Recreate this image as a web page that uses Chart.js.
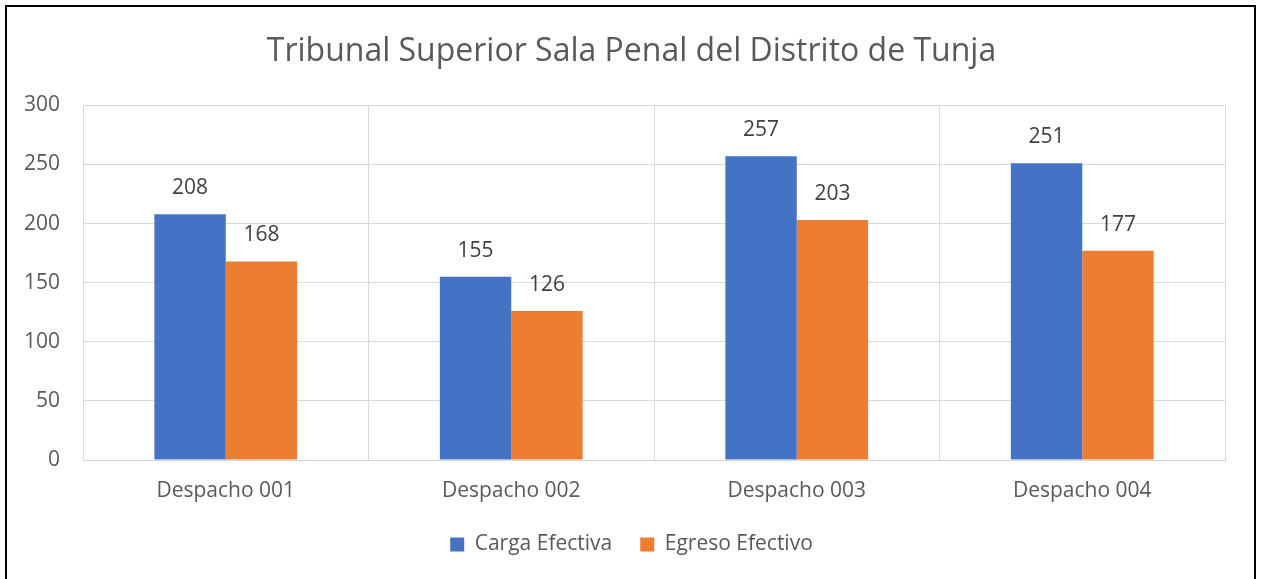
<!DOCTYPE html>
<html>
<head>
<meta charset="utf-8">
<script src="https://cdn.jsdelivr.net/npm/chart.js@4"></script>
<style>
  html, body { margin: 0; padding: 0; background: #fff; overflow: hidden; }
  #wrap { position: relative; width: 1263px; height: 579px; }
  #frame {
    position: absolute; left: 5px; top: 5px; width: 1247px; height: 640px;
    border: 2px solid #000; pointer-events: none;
  }
</style>
</head>
<body>
<div id="wrap">
  <canvas id="chart" width="1263" height="579"></canvas>
  <div id="frame"></div>
</div>
<script>
const chartTitle = 'Tribunal Superior Sala Penal del Distrito de Tunja';
const categories = ['Despacho 001', 'Despacho 002', 'Despacho 003', 'Despacho 004'];
const cargaEfectiva = [208, 155, 257, 251];
const egresoEfectivo = [168, 126, 203, 177];
const seriesNames = ['Carga Efectiva', 'Egreso Efectivo'];
const yTicks = [0, 50, 100, 150, 200, 250, 300];

const FONT = "'Open Sans', 'Noto Sans', sans-serif";

// values above each bar
const barLabels = {
  id: 'barLabels',
  afterDatasetsDraw(chart) {
    const ctx = chart.ctx;
    ctx.save();
    ctx.font = '21px ' + FONT;
    ctx.fillStyle = '#404040';
    ctx.textAlign = 'center';
    ctx.textBaseline = 'middle';
    chart.data.datasets.forEach((ds, i) => {
      chart.getDatasetMeta(i).data.forEach((bar, j) => {
        ctx.fillText(ds.data[j], bar.x, bar.y - 26);
      });
    });
    ctx.restore();
  }
};

const ctx = document.getElementById('chart').getContext('2d');
new Chart(ctx, {
  type: 'bar',
  data: {
    labels: categories,
    datasets: [
      { label: seriesNames[0], data: cargaEfectiva, backgroundColor: '#4472C4' },
      { label: seriesNames[1], data: egresoEfectivo, backgroundColor: '#ED7D31' }
    ]
  },
  options: {
    responsive: false,
    animation: false,
    layout: { padding: { left: 0, right: 0, top: 0, bottom: 14 } },
    datasets: { bar: { categoryPercentage: 0.5, barPercentage: 1.0 } },
    plugins: {
      title: {
        display: true,
        text: chartTitle,
        color: '#595959',
        font: { family: FONT, size: 32, weight: 'normal' },
        padding: { top: 33, bottom: 34 }
      },
      legend: {
        position: 'bottom',
        labels: {
          boxWidth: 14,
          boxHeight: 14,
          color: '#595959',
          font: { family: FONT, size: 21 },
          padding: 28
        }
      },
      tooltip: { enabled: false }
    },
    scales: {
      x: {
        grid: { color: '#d9d9d9', drawTicks: false, offset: true },
        border: { color: '#d9d9d9' },
        ticks: { color: '#595959', font: { family: FONT, size: 21 }, padding: 18 },
        afterFit(scale) { scale.height = 46; }
      },
      y: {
        min: 0,
        max: 300,
        grid: { color: '#d9d9d9', drawTicks: false },
        border: { display: false },
        afterBuildTicks(scale) { scale.ticks = yTicks.map(v => ({ value: v })); },
        ticks: { color: '#595959', font: { family: FONT, size: 21 }, padding: 23 },
        afterFit(scale) { scale.width = 83; }
      },
      // empty right-side spacer so the title stays centred on the canvas
      yRight: {
        position: 'right',
        min: 0,
        max: 300,
        grid: { display: false, drawTicks: false },
        border: { display: false },
        ticks: { display: false },
        afterFit(scale) { scale.width = 38; }
      }
    }
  },
  plugins: [barLabels]
});
</script>
</body>
</html>
